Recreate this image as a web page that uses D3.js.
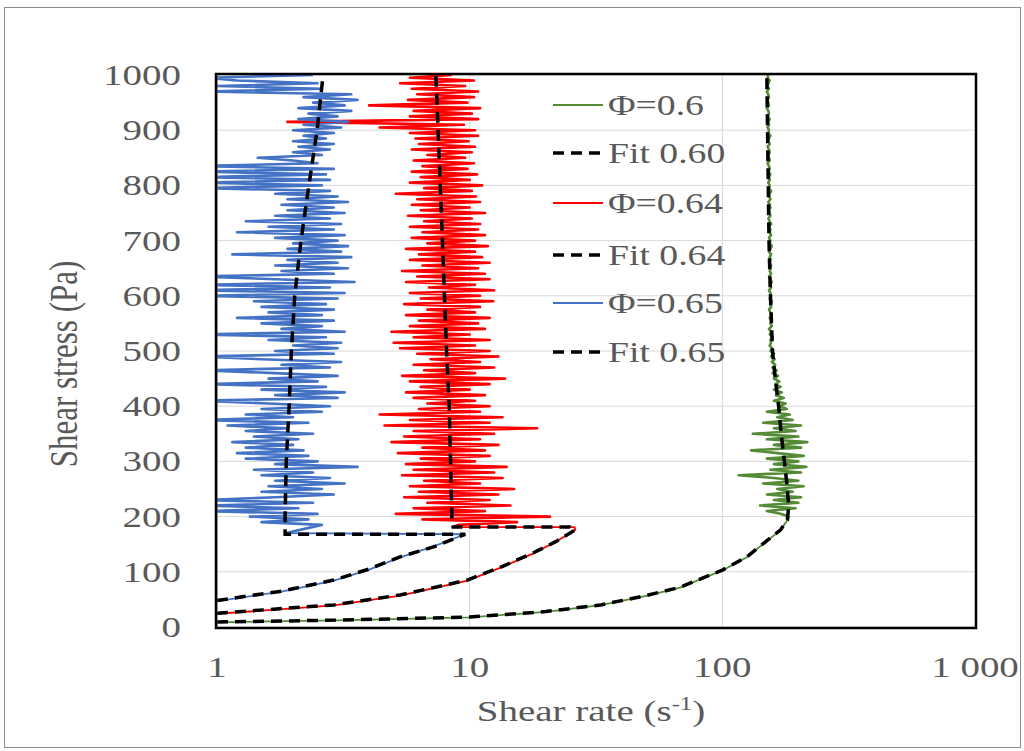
<!DOCTYPE html>
<html><head><meta charset="utf-8">
<script src="https://cdn.jsdelivr.net/npm/d3@7"></script>
<style>body{margin:0;background:#fff}</style></head>
<body>
<svg id="c" width="1024" height="751"></svg>
<script>
// ---------- data ----------
const xTicks = [1, 10, 100, 1000];
const xTickLabels = ["1", "10", "100", "1 000"];
const yTicks = [0, 100, 200, 300, 400, 500, 600, 700, 800, 900, 1000];
const seriesNames = ["Φ=0.6", "Fit 0.60", "Φ=0.64", "Fit 0.64", "Φ=0.65", "Fit 0.65"];

// ramp-up portion of measured data: [shear rate, shear stress]
const ramp60 = [[1,8.5],[3,12],[10,17.5],[20,27.5],[33,39.5],[50,56.5],[68,71.5],[100,102.5],[125,126.5],[146,151.5],[170,175.5],[181,194]];
const ramp64 = [[1,24],[2.9,39],[5.3,57],[9.8,84],[13.5,109],[17.8,133],[22,155],[26.2,176],[26,181],[8.6,181]];
const ramp65 = [[1,47],[1.8,64],[2.9,84],[4,104],[5.3,126],[7.2,146],[9.6,168],[1.86,170]];

// noisy portion: shared stress steps (Pa) and shear rates (1/s)
const stressNoisy = [185,190,195,200,205,210,215,220,225,230,235,240,245,250,255,260,265,270,275,280,285,290,295,300,305,310,315,320,325,330,335,340,345,350,355,360,365,370,375,380,385,390,395,400,405,410,415,420,425,430,435,440,445,450,455,460,465,470,475,480,485,490,495,500,505,510,515,520,525,530,535,540,545,550,555,560,565,570,575,580,585,590,595,600,605,610,615,620,625,630,635,640,645,650,655,660,665,670,675,680,685,690,695,700,705,710,715,720,725,730,735,740,745,750,755,760,765,770,775,780,785,790,795,800,805,810,815,820,825,830,835,840,845,850,855,860,865,870,875,880,885,890,895,900,905,910,915,920,925,930,935,940,945,950,955,960,965,970,975,980,985,990,995,1000];

const rate65 = [2.6,1.5,2.3,1.35,2.5,0.9,2.1,
0.9,2.4,0.9,1.7,2.9,1.5,2.6,1.6,3.2,1.7,
2.8,1.5,2.4,1.4,3.6,1.7,2.5,1.3,2.3,1.2,
2.2,1.3,2.0,1.15,2.1,1.4,2.4,1.3,1.9,1.1,
2.3,0.85,2.0,1.3,2.6,1.5,2.8,1.6,0.85,3.0,
1.7,3.2,1.5,2.7,0.85,2.5,1.6,3.0,1.7,0.85,
2.8,1.8,3.1,1.5,0.85,2.9,1.7,3.0,2.0,3.1,
1.6,2.7,0.85,3.2,1.8,2.6,1.5,2.9,1.2,2.6,
1.6,2.9,1.5,2.7,1.4,3.0,0.85,3.2,0.85,2.8,
0.85,3.5,1.7,0.85,2.9,1.8,3.3,1.7,3.0,1.9,
3.4,1.15,3.1,1.9,3.3,2.0,3.0,1.7,3.2,1.2,
2.9,1.6,3.1,1.3,2.8,1.7,3.2,1.9,2.9,1.8,
3.3,1.9,3.0,1.7,2.8,0.85,2.6,0.85,2.8,0.85,
2.7,0.85,2.9,0.85,2.5,2.0,1.45,2.6,2.0,2.8,
2.1,2.9,2.0,2.7,2.2,2.9,2.0,3.1,2.2,3.3,
2.1,3.0,2.3,3.4,2.1,3.2,2.4,3.6,2.2,3.4,
0.9,2.6,1.0,2.5,1.2,0.9,2.4];

const rate64 = [9.0,15.4,6.5,20.8,5.1,11.5,6.0,14.5,6.8,12.0,
5.5,13.0,6.3,15.0,5.8,11.0,6.6,13.5,5.4,12.5,
6.0,14.0,5.6,10.5,6.4,12.0,5.2,11.5,6.5,13.0,
4.9,11.0,5.5,12.5,6.0,18.5,4.6,12.0,5.8,13.5,
4.4,11.0,6.3,12.0,6.8,10.5,6.0,11.5,5.6,10.0,
6.4,12.0,5.8,13.8,5.4,10.5,6.6,12.5,6.0,11.0,
7.0,13.0,6.2,12.0,5.3,10.5,5.0,12.0,6.0,10.0,
4.9,11.5,5.8,10.8,6.3,12.0,5.6,10.5,6.8,11.0,
5.5,12.4,6.4,11.0,5.8,12.5,6.9,10.5,5.6,12.0,
6.2,11.5,5.4,10.8,6.5,12.0,5.8,11.2,6.3,10.5,
5.6,11.8,6.8,10.5,5.9,11.5,6.5,10.8,5.8,11.0,
6.6,10.2,5.7,11.5,6.4,10.0,5.9,11.0,6.2,10.6,
5.1,10.2,6.6,11.2,5.8,10.0,6.4,10.7,5.9,9.8,
6.5,10.4,6.0,9.6,6.8,10.2,5.9,10.5,6.3,9.9,
6.1,10.8,5.8,10.5,4.4,9.5,1.9,10.8,5.8,10.2,
6.0,11.0,4.0,9.8,5.7,10.4,6.2,10.8,5.9,9.6,
5.3,10.4,5.8,8.5];

const rate60 = [null,null,null,
183,170,150,195,141,200,160,205,150,190,
165,210,145,200,160,116,205,155,215,160,
200,150,210,165,130,205,160,217,150,200,
132,195,160,205,145,190,165,185,150,180,
168,178,160,175,163,172,160,170,162,168,
160,166,158,164,158,162,157,161,156,160,
155,
157,154,156,155,158,154,156,153,157,155,
156,154,157,155,153,156,155,157,154,156,
155,153,156,154,157,155,153,156,154,155,
156,153,155,154,156,153,155,157,154,155,
153,156,154,155,153,156,154,152,155,154,
153,155,154,152,155,153,154,156,153,154,
152,154,153,155,152,154,153,151,154,153,
152,154,153,151,154,152,153,155,152,153,
151,153,152,154,151,153,152,150,153,152,
151,153,152,150,153,151,152,154,151,152];

// fitted model curves: [shear rate, shear stress]
const fit60 = [[1,9],[3,12.5],[10,18],[20,28],[33,40],[50,57],[68,72],[100,103],[125,127],[146,152],[170,176],[181,194],[183,220],[180,260],[176,300],[171,350],[167,400],[162,450],[158,500],[155,600],[153,700],[152,800],[151,900],[150,1000]];
const fit64 = [[1,25],[2.9,40],[5.3,58],[9.8,85],[13.5,110],[17.8,134],[22,155],[26.2,176],[25,181],[8.6,181],[8.5,200],[8.4,300],[8.3,400],[8.1,500],[7.95,600],[7.8,700],[7.65,800],[7.5,900],[7.35,1000]];
const fit65 = [[1,48],[1.8,65],[2.9,85],[4,105],[5.3,127],[7.2,145],[9.6,168],[1.86,168],[1.86,200],[1.88,300],[1.93,400],[1.97,500],[2.03,600],[2.15,700],[2.31,800],[2.49,900],[2.63,1000]];

// ---------- layout / style ----------
const L = 217, T = 75, W = 758, H = 552;
const GREEN = "#548b36", RED = "#ff0000", BLUE = "#4472c4", TXT = "#595959";
const FONT = "'Liberation Serif','Times New Roman',serif";
const SX = 1.3; // horizontal stretch of the reference text

const svg = d3.select("#c");
svg.append("rect").attr("x",4.5).attr("y",7.5).attr("width",1016).attr("height",740)
  .attr("fill","none").attr("stroke","#8c8c8c").attr("stroke-width",1);

const x = d3.scaleLog().domain([1,1000]).range([L, L+W]);
const y = d3.scaleLinear().domain([0,1000]).range([T+H, T]);

svg.append("defs").append("clipPath").attr("id","clip")
  .append("rect").attr("x",L).attr("y",T).attr("width",W).attr("height",H);

// gridlines
const grid = svg.append("g");
grid.selectAll("line.h").data(yTicks).join("line")
  .attr("x1",L).attr("x2",L+W).attr("y1",d=>y(d)).attr("y2",d=>y(d))
  .attr("stroke","#d9d9d9").attr("stroke-width",1);
grid.selectAll("line.v").data(xTicks.slice(1,3)).join("line")
  .attr("y1",T).attr("y2",T+H).attr("x1",d=>x(d)).attr("x2",d=>x(d))
  .attr("stroke","#d9d9d9").attr("stroke-width",1);

function txt(g, px, py, s, anchor, size){
  return g.append("text").attr("transform",`translate(${px},${py}) scale(${SX},1)`)
    .attr("text-anchor",anchor).attr("font-family",FONT).attr("font-size",size)
    .attr("fill",TXT).text(s);
}

// legend (drawn under the data, transparent)
const leg = svg.append("g");
const legY = [105,153,203,255,303,352];
const legStyle = [
  {c:GREEN,d:null,w:2},{c:"#000",d:"11,7",w:3.5},
  {c:RED,d:null,w:2},{c:"#000",d:"11,7",w:3.5},
  {c:BLUE,d:null,w:2},{c:"#000",d:"11,7",w:3.5}];
seriesNames.forEach((n,i)=>{
  leg.append("line").attr("x1",553).attr("x2",603).attr("y1",legY[i]).attr("y2",legY[i])
    .attr("stroke",legStyle[i].c).attr("stroke-width",legStyle[i].w)
    .attr("stroke-dasharray",legStyle[i].d);
  txt(leg, 608, legY[i]+10, n, "start", 29);
});

// data
const line = d3.line().x(d=>x(d[0])).y(d=>y(d[1]));
const plot = svg.append("g").attr("clip-path","url(#clip)");
function drawData(ramp, rates, c){
  plot.append("path").attr("d",line(ramp)).attr("fill","none").attr("stroke",c)
    .attr("stroke-width",1.8);
  const pts = [ramp[ramp.length-1]];
  stressNoisy.forEach((s,i)=>{ if(rates[i]!=null) pts.push([rates[i], s]); });
  plot.append("path").attr("d",line(pts)).attr("fill","none").attr("stroke",c)
    .attr("stroke-width",2.6).attr("stroke-linejoin","round");
}
function drawFit(pts){
  plot.append("path").attr("d",line(pts)).attr("fill","none").attr("stroke","#000")
    .attr("stroke-width",3.5).attr("stroke-dasharray","11,7");
}
drawData(ramp60, rate60, GREEN); drawFit(fit60);
drawData(ramp64, rate64, RED); drawFit(fit64);
drawData(ramp65, rate65, BLUE); drawFit(fit65);

// frame
svg.append("line").attr("x1",L).attr("x2",L).attr("y1",T).attr("y2",T+H).attr("stroke","#868686").attr("stroke-width",1);
svg.append("rect").attr("x",L-1).attr("y",T-1).attr("width",W+2).attr("height",H+2)
  .attr("fill","none").attr("stroke","#000").attr("stroke-width",2.5);

// tick labels
const ax = svg.append("g");
yTicks.forEach(v=> txt(ax, 181, y(v)+10, String(v), "end", 30));
xTicks.forEach((v,i)=> txt(ax, x(v), 677, xTickLabels[i], "middle", 30));

// axis titles
const xt = svg.append("text").attr("transform",`translate(591,721) scale(${SX},1)`)
  .attr("text-anchor","middle").attr("font-family",FONT).attr("font-size",30).attr("fill",TXT);
xt.append("tspan").text("Shear rate (s");
xt.append("tspan").attr("dy",-11).attr("font-size",19).text("-1");
xt.append("tspan").attr("dy",11).text(")");

svg.append("text").attr("transform",`translate(77,364) rotate(-90) scale(1,${SX})`)
  .attr("text-anchor","middle").attr("font-family",FONT).attr("font-size",31).attr("fill",TXT)
  .text("Shear stress (Pa)");
</script>
</body></html>
